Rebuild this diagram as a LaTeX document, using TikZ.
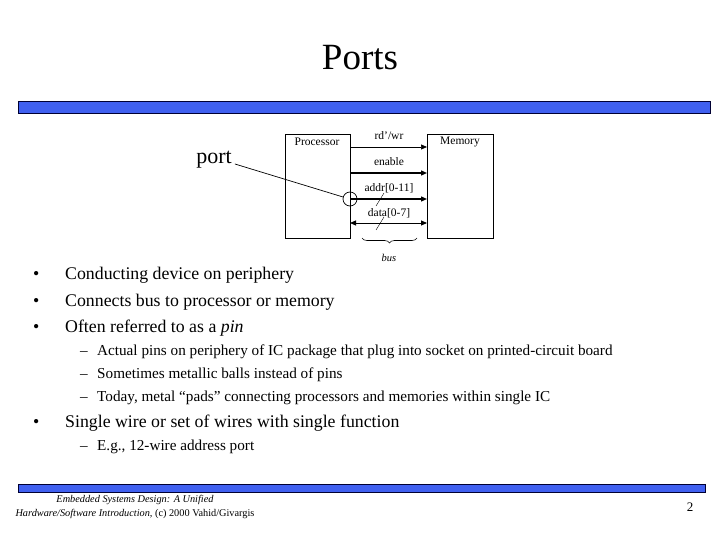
\documentclass[tikz,border=0pt]{standalone}
\usepackage{fontspec}
\setmainfont{Liberation Serif}
\usetikzlibrary{decorations.pathreplacing,arrows.meta}
\begin{document}
\begin{tikzpicture}[x=1pt,y=-1pt,
 bar/.style={draw=black!80!blue,line width=1pt},
 box/.style={draw,line width=0.6pt},
 sig/.style={line width=0.7pt,-{Triangle[length=6pt,width=5pt]}},
 lab/.style={font=\fontsize{11.5}{12}\selectfont,inner sep=0pt},
 bul/.style={anchor=base west,font=\fontsize{17.8}{20}\selectfont,inner sep=0pt},
 sub/.style={anchor=base west,font=\fontsize{15.2}{18}\selectfont,inner sep=0pt}]
\useasboundingbox (0,0) rectangle (720,540);
\node[font=\fontsize{37}{40}\selectfont] (title) at (360,58) {Ports};
\filldraw[bar,fill={rgb,255:red,64;green,96;blue,240}] (18,102) rectangle (710,114);
\filldraw[bar,fill={rgb,255:red,64;green,96;blue,240}] (18,484) rectangle (705,492);
% diagram
\draw[box] (285,134) rectangle (350,238);
\draw[box] (427,134) rectangle (493,238);
\node[lab] (proc) at (317,142) {Processor};
\node[lab] (mem) at (460,142) {Memory};
\coordinate (p1) at (350,147); \coordinate (m1) at (427,147);
\coordinate (p2) at (350,173); \coordinate (m2) at (427,173);
\coordinate (p3) at (350,199); \coordinate (m3) at (427,199);
\coordinate (p4) at (350,223); \coordinate (m4) at (427,223);
\draw[sig] (p1) -- (m1);
\draw[sig,line width=1.3pt] (p2) -- (m2);
\draw[sig,line width=1.3pt] (p3) -- (m3);
\draw[line width=0.9pt,{Triangle[length=6pt,width=5pt]}-{Triangle[length=6pt,width=5pt]}] (p4) -- (m4);
\node[lab] (l1) at (389,136) {rd'/wr};
\node[lab] (l2) at (389,162) {enable};
\node[lab] (l3) at (389,188) {addr[0-11]};
\node[lab] (l4) at (389,213) {data[0-7]};
\draw (376,206) -- (384,193);
\draw (376,230) -- (384,217);
\draw[line width=0.7pt] (350,199) circle (7);
\node[font=\fontsize{22}{24}\selectfont,inner sep=1pt] (port) at (214,160) {port};
\coordinate (pc) at (343,197);
\draw[line width=0.7pt] (port.east) ++(2,4) -- (pc);
\draw[line width=0.6pt,decorate,decoration={brace,mirror,amplitude=5pt}] (362,238) -- (417,238);
\node[lab,font=\fontsize{10.5}{12}\selectfont\itshape] (bus) at (389,258) {bus};
% bullets
\foreach \y/\t in {279/Conducting device on periphery,306/Connects bus to processor or memory}
  {\node[bul] at (33,\y) {•}; \node[bul] at (65,\y) {\t};}
\node[bul] at (33,332) {•}; \node[bul] at (65,332) {Often referred to as a \textit{pin}};
\node[sub] at (80,355) {–}; \node[sub] at (97,355) {Actual pins on periphery of IC package that plug into socket on printed-circuit board};
\node[sub] at (80,378) {–}; \node[sub] at (97,378) {Sometimes metallic balls instead of pins};
\node[sub] at (80,401) {–}; \node[sub] at (97,401) {Today, metal “pads” connecting processors and memories within single IC};
\node[bul] at (33,427) {•}; \node[bul] at (65,427) {Single wire or set of wires with single function};
\node[sub] at (80,450) {–}; \node[sub] at (97,450) {E.g., 12-wire address port};
\node[font=\fontsize{10.3}{13.5}\selectfont\itshape,align=center] (foot) at (135,507) {Embedded Systems Design: A Unified\\Hardware/Software Introduction, \upshape(c) 2000 Vahid/Givargis};
\node[font=\fontsize{13}{14}\selectfont] (pg) at (690,507) {2};
\end{tikzpicture}
\end{document}
